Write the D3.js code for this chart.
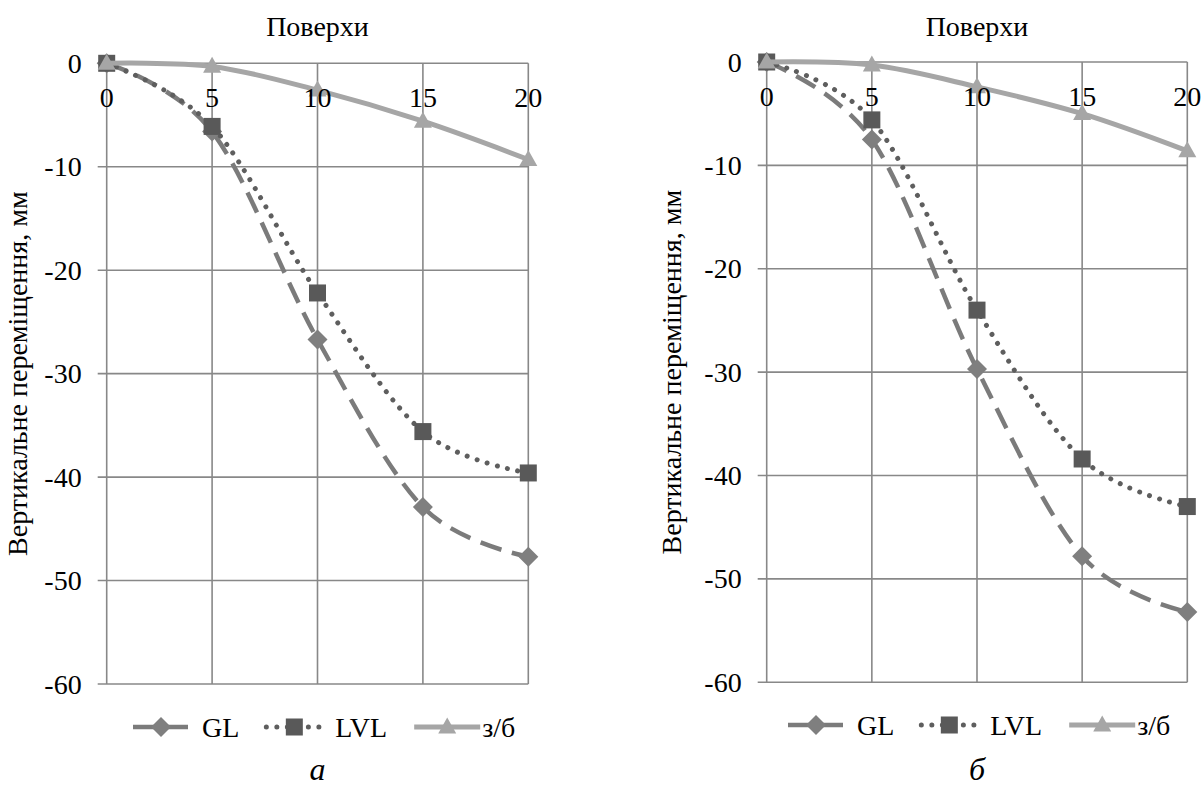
<!DOCTYPE html>
<html>
<head>
<meta charset="utf-8">
<script src="https://cdn.jsdelivr.net/npm/d3@7"></script>
<style>
  html, body { margin: 0; padding: 0; background: #ffffff; }
  svg { display: block; }
  text { font-family: "Liberation Serif", "Times New Roman", serif; fill: #000; }
</style>
</head>
<body>
<svg id="chart" width="1203" height="787"></svg>
<script>
// ---------- data ----------
const floors = [0, 5, 10, 15, 20];
const xTicks = [0, 5, 10, 15, 20];
const yTicks = [0, -10, -20, -30, -40, -50, -60];
const seriesNames = ["GL", "LVL", "з/б"];

// panel a
const glA  = [0, -6.6, -26.7, -42.9, -47.7];
const lvlA = [0, -6.1, -22.2, -35.6, -39.6];
const zbA  = [0, -0.3, -2.6, -5.6, -9.3];
// panel б
const glB  = [0, -7.5, -29.7, -47.8, -53.2];
const lvlB = [0, -5.6, -24.0, -38.4, -43.0];
const zbB  = [0, -0.3, -2.4, -5.0, -8.6];

const panelLabels = ["а", "б"];
const xTitle = "Поверхи";
const yTitle = "Вертикальне переміщення, мм";

// ---------- styles ----------
const styles = [
  { color: "#7b7b7b", marker: "#7f7f7f", width: 4.5, dash: "22,11", cap: "butt", symbol: "diamond" },
  { color: "#5e5e5e", marker: "#595959", width: 5,   dash: "0.01,10.5", cap: "round", symbol: "square" },
  { color: "#a6a6a6", marker: "#a6a6a6", width: 5,   dash: null, cap: "butt", symbol: "triangle" }
];

const panels = [
  { label: panelLabels[0], series: [glA, lvlA, zbA], left: 106.7, right: 528.3, top: 63.3, bottom: 684, legendX: 133, legendY: 727, yTitleX: 27 },
  { label: panelLabels[1], series: [glB, lvlB, zbB], left: 766.7, right: 1187.3, top: 62, bottom: 682.3, legendX: 788, legendY: 725, yTitleX: 681 }
];

const svg = d3.select("#chart");
const FS = 28;
const gridColor = "#888888";

function markerPath(g, symbol, x, y, fill) {
  if (symbol === "diamond") {
    const r = 10;
    g.append("path").attr("d", `M${x},${y - r}L${x + r},${y}L${x},${y + r}L${x - r},${y}Z`).attr("fill", fill);
  } else if (symbol === "square") {
    const s = 17;
    g.append("rect").attr("x", x - s / 2).attr("y", y - s / 2).attr("width", s).attr("height", s).attr("fill", fill);
  } else {
    const w = 18, h = 16;
    g.append("path").attr("d", `M${x},${y - h * 0.6}L${x + w / 2},${y + h * 0.4}L${x - w / 2},${y + h * 0.4}Z`).attr("fill", fill);
  }
}

panels.forEach(p => {
  const g = svg.append("g");
  const x = d3.scaleLinear().domain([0, 20]).range([p.left, p.right]);
  const y = d3.scaleLinear().domain([0, -60]).range([p.top, p.bottom]);

  // horizontal gridlines + y ticks
  g.append("g").selectAll("line").data(yTicks).join("line")
    .attr("x1", x(0) - 9).attr("x2", x(20))
    .attr("y1", d => y(d)).attr("y2", d => y(d))
    .attr("stroke", gridColor).attr("stroke-width", 1.6);
  // vertical gridlines
  g.append("g").selectAll("line").data(xTicks).join("line")
    .attr("x1", d => x(d)).attr("x2", d => x(d))
    .attr("y1", y(0)).attr("y2", y(-60))
    .attr("stroke", gridColor).attr("stroke-width", 1.6);

  // y tick labels
  g.append("g").selectAll("text").data(yTicks).join("text")
    .attr("x", x(0) - 25).attr("y", d => y(d))
    .attr("text-anchor", "end").attr("dominant-baseline", "central")
    .attr("font-size", FS).text(d => d);

  // series
  p.series.forEach((vals, i) => {
    const st = styles[i];
    const pts = floors.map((f, k) => [x(f), y(vals[k])]);
    const line = d3.line().curve(d3.curveCatmullRom.alpha(0));
    const path = g.append("path").attr("d", line(pts))
      .attr("fill", "none").attr("stroke", st.color)
      .attr("stroke-width", st.width).attr("stroke-linecap", st.cap);
    if (st.dash) path.attr("stroke-dasharray", st.dash);
    pts.forEach(pt => markerPath(g, st.symbol, pt[0], pt[1], st.marker));
  });

  // x tick labels (drawn on top)
  g.append("g").selectAll("text").data(xTicks).join("text")
    .attr("x", d => x(d)).attr("y", y(0) + 44)
    .attr("text-anchor", "middle").attr("font-size", FS).text(d => d);

  // axis titles
  svg.append("text").attr("x", (p.left + p.right) / 2).attr("y", 36)
    .attr("text-anchor", "middle").attr("font-size", FS).text(xTitle);
  svg.append("text")
    .attr("transform", `translate(${p.yTitleX},${(p.top + p.bottom) / 2}) rotate(-90)`)
    .attr("text-anchor", "middle").attr("font-size", FS).text(yTitle);

  // legend
  const lg = svg.append("g");
  let cx = p.legendX;
  const sampleW = [56, 56, 66];
  const textGap = [13, 13, 2];
  seriesNames.forEach((name, i) => {
    const st = styles[i];
    const ly = p.legendY;
    const l = lg.append("line").attr("x1", cx).attr("x2", cx + sampleW[i])
      .attr("y1", ly).attr("y2", ly)
      .attr("stroke", st.color).attr("stroke-width", st.width).attr("stroke-linecap", st.cap);
    if (st.dash) l.attr("stroke-dasharray", st.dash);
    markerPath(lg, st.symbol, cx + sampleW[i] / 2, ly, st.marker);
    const t = lg.append("text").attr("x", cx + sampleW[i] + textGap[i]).attr("y", ly)
      .attr("dominant-baseline", "central").attr("font-size", FS).text(name);
    cx = cx + sampleW[i] + textGap[i] + t.node().getComputedTextLength() + 27;
  });

  // panel label
  svg.append("text").attr("x", (p.left + p.right) / 2).attr("y", 780)
    .attr("text-anchor", "middle").attr("font-size", 32).attr("font-style", "italic")
    .text(p.label);
});
</script>
</body>
</html>
